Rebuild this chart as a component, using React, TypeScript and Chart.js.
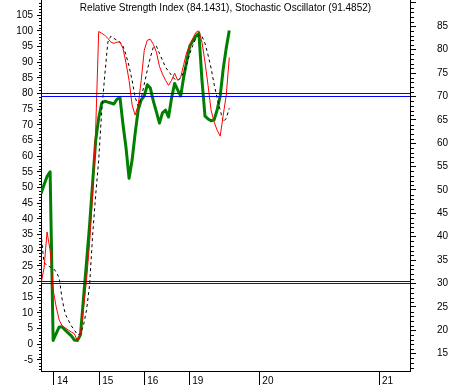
import React, { useEffect, useRef } from 'react';
import { Chart, registerables } from 'chart.js';

Chart.register(...registerables);

// Relative Strength Index (right axis)
const rsi = [
  49.2, 51.1, 52.9, 53.9, 17.8, 19.3, 20.7, 20.7, 20.0, 19.4,
  18.8, 17.9, 17.8, 19.0, 26.9, 34.6, 42.5, 51.5, 60.5, 65.4,
  68.6, 69.0, 68.8, 68.6, 68.4, 69.4, 69.8, 64.0, 59.0, 52.5,
  56.4, 62.1, 67.1, 69.3, 70.1, 72.5, 71.8, 69.0, 66.7, 64.3,
  66.5, 67.1, 65.6, 69.7, 72.8, 71.4, 70.1, 74.2, 77.6, 80.8,
  81.9, 82.9, 83.5, 73.5, 65.8, 65.2, 64.8, 65.0, 67.1, 70.1,
  75.9, 80.4, 84.1,
];

// Stochastic oscillator %K (left axis)
const stochK = [
  19.2, 24.3, 35.8, 30.0, 17.3, 11.9, 7.7, 5.8, 5.2, 4.5,
  3.9, 3.3, 1.0, 3.6, 11.6, 20.5, 32.3, 47.6, 68.3, 99.8,
  99.2, 98.6, 97.6, 96.4, 96.0, 96.4, 96.4, 94.4, 89.7, 84.2,
  76.3, 73.1, 76.3, 84.2, 93.8, 97.0, 97.3, 95.7, 93.2, 88.7,
  86.2, 84.2, 82.6, 84.2, 86.5, 84.2, 85.2, 89.3, 93.2, 95.4,
  97.6, 99.5, 100.0, 96.4, 90.0, 82.6, 74.7, 70.9, 68.3, 66.4,
  73.1, 79.5, 91.5,
];

// Stochastic oscillator %D (left axis)
const stochD = [
  35.5, 25.9, 25.3, 24.6, 24.3, 23.0, 21.1, 14.1, 9.6, 7.7,
  5.8, 4.5, 3.0, 3.3, 6.1, 10.9, 18.9, 34.8, 47.6, 58.7,
  74.7, 85.8, 96.4, 98.3, 97.6, 97.0, 96.4, 95.1, 92.3, 88.7,
  84.2, 78.8, 76.0, 78.5, 83.0, 87.4, 91.5, 94.8, 95.1, 92.8,
  90.6, 88.4, 87.1, 85.8, 84.6, 84.2, 84.9, 86.8, 89.3, 92.8,
  95.4, 97.6, 98.6, 98.3, 96.0, 92.3, 88.1, 83.0, 78.5, 74.7,
  70.9, 72.1, 75.3,
];

const xTickPositions = [4.28, 19.2, 34.0, 48.8, 71.9, 111.3];
const xTickLabels = ['14', '15', '16', '19', '20', '21'];
const leftTicks = [-5, 0, 5, 10, 15, 20, 25, 30, 35, 40, 45, 50, 55, 60, 65, 70, 75, 80, 85, 90, 95, 100, 105];
const rightTicks = [15, 20, 25, 30, 35, 40, 45, 50, 55, 60, 65, 70, 75, 80, 85, 90];
const rightHiddenLabels = [90];
const stochLevels = [80, 20];
const rsiLevels = [70, 30];
const titleText = 'Relative Strength Index (84.1431), Stochastic Oscillator (91.4852)';

const X_MIN = 0;
const X_MAX = 121.5;
const L_MIN = -8.56;
const L_MAX = 109.84;
const R_MIN = 11.28;
const R_MAX = 90.64;

const FONT = 'Liberation Sans, Arial, sans-serif';

const minorTicksPlugin = {
  id: 'minorTicks',
  afterDraw(chart: any) {
    const ctx = chart.ctx;
    const yL = chart.scales.yL;
    const yR = chart.scales.yR;
    ctx.save();
    ctx.strokeStyle = '#000';
    ctx.lineWidth = 1;
    ctx.beginPath();
    for (let v = Math.ceil(yL.min); v <= yL.max; v++) {
      if (v % 5 === 0) continue;
      const y = Math.round(yL.getPixelForValue(v)) + 0.5;
      ctx.moveTo(yL.right - 2, y);
      ctx.lineTo(yL.right, y);
    }
    for (let v = Math.ceil(yR.min); v <= yR.max; v++) {
      if (v % 5 === 0) continue;
      const y = Math.round(yR.getPixelForValue(v)) + 0.5;
      ctx.moveTo(yR.left, y);
      ctx.lineTo(yR.left + 4, y);
    }
    ctx.stroke();
    ctx.restore();
  },
};

const titlePlugin = {
  id: 'insideTitle',
  afterDraw(chart: any) {
    const ctx = chart.ctx;
    const area = chart.chartArea;
    ctx.save();
    ctx.fillStyle = '#000';
    ctx.font = `10px ${FONT}`;
    ctx.textAlign = 'center';
    ctx.textBaseline = 'middle';
    ctx.fillText(titleText, (area.left + area.right) / 2, 8);
    ctx.restore();
  },
};

const toPoints = (arr: number[]) => arr.map((v, i) => ({ x: i, y: v }));

const zeroPadding = (s: any) => {
  s.paddingTop = 0;
  s.paddingBottom = 0;
  s.paddingLeft = 0;
  s.paddingRight = 0;
};

export default function App() {
  const canvasRef = useRef<HTMLCanvasElement | null>(null);

  useEffect(() => {
    document.body.style.margin = '0';
    const canvas = canvasRef.current;
    if (!canvas) return;

    Chart.defaults.font.family = FONT;
    Chart.defaults.font.size = 10;
    Chart.defaults.color = '#000';

    const levelSet = (level: number, axis: string) => ({
      data: [
        { x: X_MIN, y: level },
        { x: X_MAX, y: level },
      ],
      yAxisID: axis,
      borderColor: '#0000ff',
      borderWidth: 1,
      pointRadius: 0,
    });

    const chart = new Chart(canvas, {
      type: 'line',
      data: {
        datasets: [
          ...stochLevels.map((l) => levelSet(l, 'yL')),
          ...rsiLevels.map((l) => levelSet(l, 'yR')),
          {
            label: 'Stochastic %K',
            data: toPoints(stochK),
            yAxisID: 'yL',
            borderColor: '#ff0000',
            borderWidth: 1,
            pointRadius: 0,
          },
          {
            label: 'Stochastic %D',
            data: toPoints(stochD),
            yAxisID: 'yL',
            borderColor: '#000000',
            borderWidth: 1,
            borderDash: [3, 3],
            pointRadius: 0,
          },
          {
            label: 'RSI',
            data: toPoints(rsi),
            yAxisID: 'yR',
            borderColor: '#008000',
            borderWidth: 3,
            borderJoinStyle: 'round',
            pointRadius: 0,
          },
        ] as any,
      },
      options: {
        animation: false,
        responsive: false,
        devicePixelRatio: 1,
        layout: { padding: 0, autoPadding: false },
        elements: { line: { tension: 0, fill: false } },
        plugins: {
          legend: { display: false },
          tooltip: { enabled: false },
          title: { display: false },
        },
        scales: {
          x: {
            type: 'linear',
            position: 'bottom',
            min: X_MIN,
            max: X_MAX,
            afterBuildTicks: (s: any) => {
              s.ticks = xTickPositions.map((v) => ({ value: v }));
            },
            afterFit: (s: any) => {
              s.height = 14;
              zeroPadding(s);
            },
            ticks: {
              autoSkip: false,
              maxRotation: 0,
              align: 'start',
              labelOffset: 3,
              padding: -10,
              font: { size: 10, family: FONT },
              callback: (_v: any, i: number) => xTickLabels[i],
            },
            grid: { drawOnChartArea: false, drawTicks: true, tickLength: 14, color: '#000' },
            border: { display: true, color: '#000', width: 1 },
          },
          yL: {
            type: 'linear',
            position: 'left',
            min: L_MIN,
            max: L_MAX,
            afterBuildTicks: (s: any) => {
              s.ticks = leftTicks.map((v) => ({ value: v }));
            },
            afterFit: (s: any) => {
              s.width = 41;
              zeroPadding(s);
            },
            ticks: {
              autoSkip: false,
              padding: 4,
              font: { size: 10, family: FONT },
              callback: (v: any) => String(v),
            },
            grid: { drawOnChartArea: false, drawTicks: true, tickLength: 4, color: '#000' },
            border: { display: true, color: '#000', width: 1 },
          },
          yR: {
            type: 'linear',
            position: 'right',
            min: R_MIN,
            max: R_MAX,
            afterBuildTicks: (s: any) => {
              s.ticks = rightTicks.map((v) => ({ value: v }));
            },
            afterFit: (s: any) => {
              s.width = 41;
              zeroPadding(s);
            },
            ticks: {
              autoSkip: false,
              padding: 21,
              font: { size: 10, family: FONT },
              callback: (v: any) => (rightHiddenLabels.includes(v) ? '' : String(v)),
            },
            grid: { drawOnChartArea: false, drawTicks: true, tickLength: 6, color: '#000' },
            border: { display: true, color: '#000', width: 1 },
          },
        },
      } as any,
      plugins: [minorTicksPlugin, titlePlugin],
    });

    return () => {
      chart.destroy();
    };
  }, []);

  return (
    <div style={{ width: 451, height: 385 }}>
      <canvas ref={canvasRef} width={451} height={385} style={{ display: 'block' }} />
    </div>
  );
}
